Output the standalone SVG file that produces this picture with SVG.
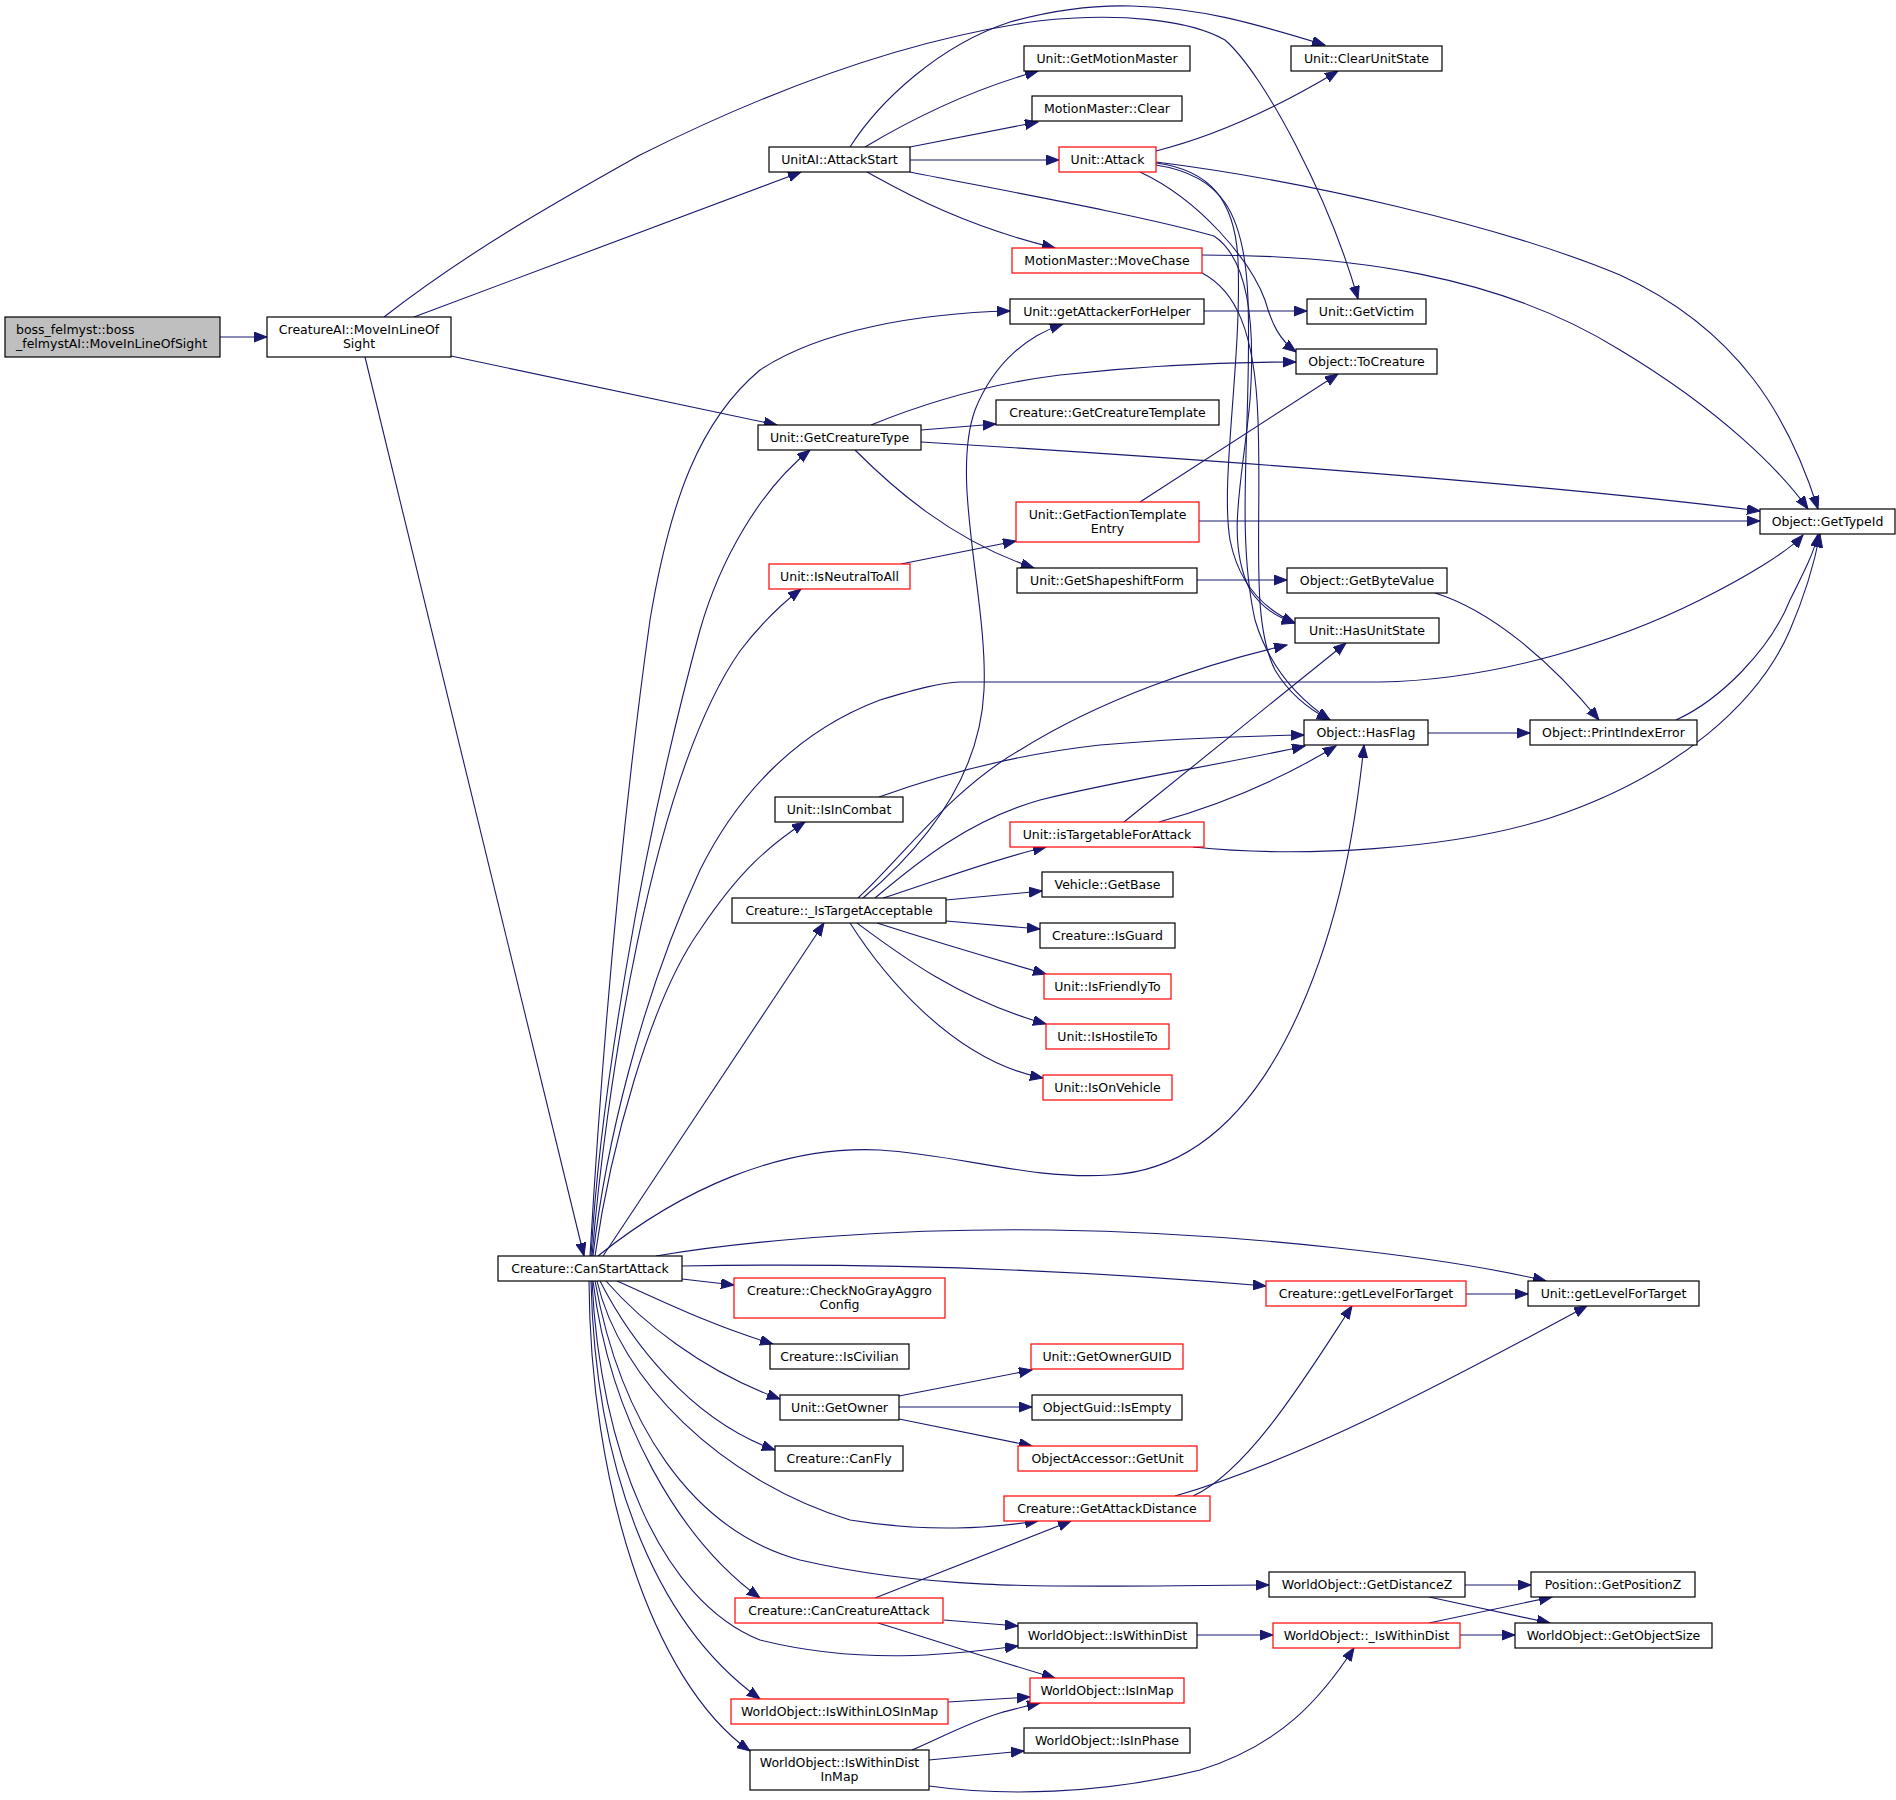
<svg xmlns="http://www.w3.org/2000/svg" width="1896" height="1800" viewBox="0 0 1896 1800">
<defs>
<style>
.n{fill:#ffffff;stroke:#000000;stroke-width:1.2}
.r{fill:#ffffff;stroke:#ff0000;stroke-width:1.2}
.g{fill:#bfbfbf;stroke:#000000;stroke-width:1.2}
text{font-family:"DejaVu Sans","Liberation Sans",sans-serif;font-size:12.5px;fill:#000000;text-anchor:middle}
.l{text-anchor:start}
#edges path{fill:none;stroke:#191970;stroke-width:1.1;marker-end:url(#a)}
</style>
<marker id="a" markerWidth="14" markerHeight="11" refX="13" refY="5" orient="auto" markerUnits="userSpaceOnUse"><path d="M0,0 L13,5 L0,10 z" fill="#191970" stroke="#191970" stroke-width="1"/></marker>
</defs>
<rect width="1896" height="1800" fill="#ffffff"/>
<g id="edges">
<path d="M220,337 L267,337"/>
<path d="M384,317 C470,250 560,200 640,155 C760,95 900,40 1038,21 C1120,12 1190,20 1225,40 C1265,75 1330,200 1358,299"/>
<path d="M414,317 L801,172"/>
<path d="M451,356 L777,425"/>
<path d="M365,357 L584,1256"/>
<path d="M850,147 C880,100 940,45 1010,22 C1060,8 1100,5 1132,6 C1200,8 1250,22 1325,45"/>
<path d="M865,147 C910,120 970,90 1038,71"/>
<path d="M910,147 L1038,122"/>
<path d="M910,160 L1059,160"/>
<path d="M867,172 C900,190 960,225 1055,248"/>
<path d="M910,172 C1000,190 1140,215 1214,236 C1250,260 1255,330 1250,400 C1243,480 1225,540 1250,590 C1262,608 1278,618 1295,623"/>
<path d="M1156,151 C1200,140 1260,118 1338,71"/>
<path d="M1156,162 C1300,180 1500,225 1620,275 C1740,330 1790,420 1818,509"/>
<path d="M1140,172 C1200,200 1250,260 1265,300 C1272,325 1280,340 1296,352"/>
<path d="M1156,163 C1210,170 1235,200 1238,260 C1242,360 1220,480 1230,540 C1240,590 1270,612 1295,623"/>
<path d="M1156,165 C1220,175 1245,210 1248,300 C1252,420 1235,530 1255,620 C1270,670 1300,700 1330,720"/>
<path d="M1202,273 C1235,290 1255,330 1258,420 C1262,530 1250,620 1275,670 C1290,695 1310,710 1330,720"/>
<path d="M1202,255 C1350,255 1500,275 1620,350 C1720,410 1780,470 1808,509"/>
<path d="M1204,311 L1307,311"/>
<path d="M871,425 C920,405 980,385 1060,375 C1150,365 1230,362 1296,362"/>
<path d="M921,430 L996,424"/>
<path d="M921,442 C1250,462 1550,485 1760,511"/>
<path d="M855,450 C890,485 950,540 1034,568"/>
<path d="M901,564 L1016,541"/>
<path d="M1140,502 L1338,374"/>
<path d="M1199,521 L1760,521"/>
<path d="M1197,580 L1287,580"/>
<path d="M1435,593 C1490,610 1550,660 1599,720"/>
<path d="M1428,733 L1530,733"/>
<path d="M1676,720 C1720,700 1770,650 1790,600 C1805,570 1815,550 1818,534"/>
<path d="M1193,847 C1300,858 1450,850 1550,818 C1680,775 1760,700 1790,630 C1805,595 1815,560 1820,534"/>
<path d="M593,1256 C605,1150 640,1000 700,870 C740,790 800,730 880,700 C920,688 940,683 960,682 L1380,682 C1500,680 1620,640 1700,600 C1750,575 1790,550 1803,535"/>
<path d="M590,1256 C605,1000 625,800 650,620 C670,500 700,420 760,370 C820,330 920,313 1010,311"/>
<path d="M591,1256 C600,1100 640,850 700,630 C720,560 760,490 810,450"/>
<path d="M592,1256 C605,1100 650,780 740,651 C760,625 780,605 801,589"/>
<path d="M595,1256 C610,1150 650,1000 700,930 C740,870 770,845 805,822"/>
<path d="M603,1256 L824,923"/>
<path d="M598,1256 C680,1190 780,1145 880,1150 C960,1155 1030,1180 1110,1175 C1200,1170 1260,1100 1300,1010 C1340,920 1355,830 1364,745"/>
<path d="M656,1256 C750,1240 900,1228 1050,1230 C1250,1233 1450,1258 1546,1281"/>
<path d="M682,1266 C900,1262 1100,1272 1266,1286"/>
<path d="M682,1279 L734,1285"/>
<path d="M617,1281 C660,1300 710,1325 773,1344"/>
<path d="M606,1281 C640,1320 700,1370 780,1399"/>
<path d="M600,1281 C630,1340 690,1420 775,1450"/>
<path d="M597,1281 C620,1380 720,1480 850,1520 C930,1533 990,1528 1038,1521"/>
<path d="M595,1281 C620,1420 690,1530 800,1560 C950,1595 1100,1585 1269,1585"/>
<path d="M593,1281 C610,1420 680,1540 760,1598"/>
<path d="M592,1281 C600,1450 660,1600 760,1640 C860,1665 950,1655 1018,1646"/>
<path d="M591,1281 C595,1460 650,1620 760,1699"/>
<path d="M589,1281 C590,1480 650,1680 750,1751"/>
<path d="M863,898 C920,850 980,780 984,690 C988,600 950,480 975,410 C995,360 1030,335 1063,324"/>
<path d="M858,898 C900,860 950,790 1020,750 C1100,700 1200,665 1287,645"/>
<path d="M875,898 C920,860 970,820 1040,800 C1120,780 1220,765 1305,746"/>
<path d="M883,898 C940,880 990,860 1046,847"/>
<path d="M946,900 L1042,891"/>
<path d="M946,921 L1040,929"/>
<path d="M877,923 C930,940 990,958 1046,974"/>
<path d="M857,923 C900,955 960,1000 1046,1024"/>
<path d="M850,923 C880,970 950,1060 1043,1078"/>
<path d="M879,797 C940,775 1010,755 1100,745 C1180,738 1250,736 1304,735"/>
<path d="M1124,822 L1346,643"/>
<path d="M1159,822 C1220,805 1280,780 1336,746"/>
<path d="M899,1396 L1032,1370"/>
<path d="M899,1407 L1032,1407"/>
<path d="M899,1419 L1032,1446"/>
<path d="M1193,1496 C1250,1470 1310,1370 1352,1306"/>
<path d="M1175,1496 C1300,1460 1450,1380 1587,1306"/>
<path d="M1466,1294 L1528,1294"/>
<path d="M875,1598 L1071,1521"/>
<path d="M944,1620 L1018,1626"/>
<path d="M878,1623 C950,1645 1000,1662 1055,1678"/>
<path d="M1465,1585 L1531,1585"/>
<path d="M1429,1597 L1550,1623"/>
<path d="M1197,1635 L1273,1635"/>
<path d="M1429,1623 L1552,1597"/>
<path d="M1460,1635 L1515,1635"/>
<path d="M948,1702 L1030,1697"/>
<path d="M912,1750 C940,1738 970,1722 1000,1713 C1015,1709 1025,1706 1040,1703"/>
<path d="M929,1760 L1024,1751"/>
<path d="M929,1786 C1000,1796 1100,1795 1200,1770 C1280,1745 1320,1700 1354,1648"/>
</g>
<g id="boss"><rect class="g" x="5" y="317" width="215" height="40"/><text class="l" x="16" y="334">boss_felmyst::boss</text><text class="l" x="16" y="347.5">_felmystAI::MoveInLineOfSight</text></g>
<g id="cai"><rect class="n" x="267" y="317" width="184" height="40"/><text x="359" y="334">CreatureAI::MoveInLineOf</text><text x="359" y="347.5">Sight</text></g>
<g id="attackstart"><rect class="n" x="769" y="147" width="141" height="25"/><text x="839.5" y="163.5">UnitAI::AttackStart</text></g>
<g id="getmotionmaster"><rect class="n" x="1024" y="46" width="166" height="25"/><text x="1107" y="62.5">Unit::GetMotionMaster</text></g>
<g id="mmclear"><rect class="n" x="1032" y="96" width="150" height="25"/><text x="1107" y="112.5">MotionMaster::Clear</text></g>
<g id="attack"><rect class="r" x="1059" y="147" width="97" height="25"/><text x="1107.5" y="163.5">Unit::Attack</text></g>
<g id="clearunitstate"><rect class="n" x="1291" y="46" width="151" height="25"/><text x="1366.5" y="62.5">Unit::ClearUnitState</text></g>
<g id="movechase"><rect class="r" x="1012" y="248" width="190" height="25"/><text x="1107" y="264.5">MotionMaster::MoveChase</text></g>
<g id="getattackerforhelper"><rect class="n" x="1010" y="299" width="194" height="25"/><text x="1107" y="315.5">Unit::getAttackerForHelper</text></g>
<g id="getvictim"><rect class="n" x="1307" y="299" width="119" height="25"/><text x="1366.5" y="315.5">Unit::GetVictim</text></g>
<g id="tocreature"><rect class="n" x="1296" y="349" width="141" height="25"/><text x="1366.5" y="365.5">Object::ToCreature</text></g>
<g id="getcreaturetemplate"><rect class="n" x="996" y="400" width="223" height="25"/><text x="1107.5" y="416.5">Creature::GetCreatureTemplate</text></g>
<g id="getcreaturetype"><rect class="n" x="758" y="425" width="163" height="25"/><text x="839.5" y="441.5">Unit::GetCreatureType</text></g>
<g id="factiontemplate"><rect class="r" x="1016" y="502" width="183" height="40"/><text x="1107.5" y="519">Unit::GetFactionTemplate</text><text x="1107.5" y="532.5">Entry</text></g>
<g id="gettypeid"><rect class="n" x="1760" y="509" width="135" height="25"/><text x="1827.5" y="525.5">Object::GetTypeId</text></g>
<g id="isneutraltoall"><rect class="r" x="769" y="564" width="141" height="25"/><text x="839.5" y="580.5">Unit::IsNeutralToAll</text></g>
<g id="getshapeshiftform"><rect class="n" x="1017" y="568" width="180" height="25"/><text x="1107" y="584.5">Unit::GetShapeshiftForm</text></g>
<g id="getbytevalue"><rect class="n" x="1287" y="568" width="160" height="25"/><text x="1367" y="584.5">Object::GetByteValue</text></g>
<g id="hasunitstate"><rect class="n" x="1295" y="618" width="144" height="25"/><text x="1367" y="634.5">Unit::HasUnitState</text></g>
<g id="hasflag"><rect class="n" x="1304" y="720" width="124" height="25"/><text x="1366" y="736.5">Object::HasFlag</text></g>
<g id="printindexerror"><rect class="n" x="1530" y="720" width="167" height="25"/><text x="1613.5" y="736.5">Object::PrintIndexError</text></g>
<g id="isincombat"><rect class="n" x="775" y="797" width="128" height="25"/><text x="839" y="813.5">Unit::IsInCombat</text></g>
<g id="istargetable"><rect class="r" x="1010" y="822" width="194" height="25"/><text x="1107" y="838.5">Unit::isTargetableForAttack</text></g>
<g id="vehiclegetbase"><rect class="n" x="1042" y="872" width="131" height="25"/><text x="1107.5" y="888.5">Vehicle::GetBase</text></g>
<g id="istargetacceptable"><rect class="n" x="732" y="898" width="214" height="25"/><text x="839" y="914.5">Creature::_IsTargetAcceptable</text></g>
<g id="isguard"><rect class="n" x="1040" y="923" width="135" height="25"/><text x="1107.5" y="939.5">Creature::IsGuard</text></g>
<g id="isfriendlyto"><rect class="r" x="1044" y="974" width="127" height="25"/><text x="1107.5" y="990.5">Unit::IsFriendlyTo</text></g>
<g id="ishostileto"><rect class="r" x="1046" y="1024" width="123" height="25"/><text x="1107.5" y="1040.5">Unit::IsHostileTo</text></g>
<g id="isonvehicle"><rect class="r" x="1043" y="1075" width="129" height="25"/><text x="1107.5" y="1091.5">Unit::IsOnVehicle</text></g>
<g id="canstartattack"><rect class="n" x="498" y="1256" width="184" height="25"/><text x="590" y="1272.5">Creature::CanStartAttack</text></g>
<g id="checknogray"><rect class="r" x="734" y="1278" width="211" height="40"/><text x="839.5" y="1295">Creature::CheckNoGrayAggro</text><text x="839.5" y="1308.5">Config</text></g>
<g id="cgetlevel"><rect class="r" x="1266" y="1281" width="200" height="25"/><text x="1366" y="1297.5">Creature::getLevelForTarget</text></g>
<g id="ugetlevel"><rect class="n" x="1528" y="1281" width="171" height="25"/><text x="1613.5" y="1297.5">Unit::getLevelForTarget</text></g>
<g id="iscivilian"><rect class="n" x="770" y="1344" width="139" height="25"/><text x="839.5" y="1360.5">Creature::IsCivilian</text></g>
<g id="getownerguid"><rect class="r" x="1031" y="1344" width="152" height="25"/><text x="1107" y="1360.5">Unit::GetOwnerGUID</text></g>
<g id="getowner"><rect class="n" x="780" y="1395" width="119" height="25"/><text x="839.5" y="1411.5">Unit::GetOwner</text></g>
<g id="isempty"><rect class="n" x="1032" y="1395" width="150" height="25"/><text x="1107" y="1411.5">ObjectGuid::IsEmpty</text></g>
<g id="canfly"><rect class="n" x="775" y="1446" width="128" height="25"/><text x="839" y="1462.5">Creature::CanFly</text></g>
<g id="getunit"><rect class="r" x="1018" y="1446" width="179" height="25"/><text x="1107.5" y="1462.5">ObjectAccessor::GetUnit</text></g>
<g id="getattackdistance"><rect class="r" x="1004" y="1496" width="206" height="25"/><text x="1107" y="1512.5">Creature::GetAttackDistance</text></g>
<g id="getdistancez"><rect class="n" x="1269" y="1572" width="196" height="25"/><text x="1367" y="1588.5">WorldObject::GetDistanceZ</text></g>
<g id="getpositionz"><rect class="n" x="1531" y="1572" width="164" height="25"/><text x="1613" y="1588.5">Position::GetPositionZ</text></g>
<g id="cancreatureattack"><rect class="r" x="735" y="1598" width="208" height="25"/><text x="839" y="1614.5">Creature::CanCreatureAttack</text></g>
<g id="iswithindist"><rect class="n" x="1018" y="1623" width="179" height="25"/><text x="1107.5" y="1639.5">WorldObject::IsWithinDist</text></g>
<g id="_iswithindist"><rect class="r" x="1273" y="1623" width="187" height="25"/><text x="1366.5" y="1639.5">WorldObject::_IsWithinDist</text></g>
<g id="getobjectsize"><rect class="n" x="1515" y="1623" width="197" height="25"/><text x="1613.5" y="1639.5">WorldObject::GetObjectSize</text></g>
<g id="isinmap"><rect class="r" x="1030" y="1678" width="154" height="25"/><text x="1107" y="1694.5">WorldObject::IsInMap</text></g>
<g id="iswithinlos"><rect class="r" x="731" y="1699" width="217" height="25"/><text x="839.5" y="1715.5">WorldObject::IsWithinLOSInMap</text></g>
<g id="isinphase"><rect class="n" x="1024" y="1728" width="166" height="25"/><text x="1107" y="1744.5">WorldObject::IsInPhase</text></g>
<g id="iswithindistinmap"><rect class="n" x="750" y="1750" width="179" height="40"/><text x="839.5" y="1767">WorldObject::IsWithinDist</text><text x="839.5" y="1780.5">InMap</text></g>
</svg>
